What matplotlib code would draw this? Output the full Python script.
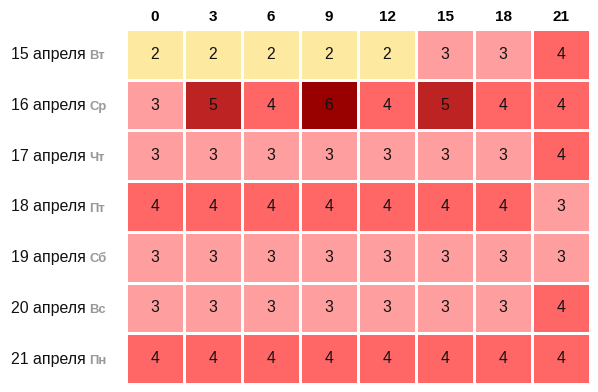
import matplotlib
matplotlib.use("Agg")
import matplotlib.pyplot as plt
from matplotlib.colors import ListedColormap, BoundaryNorm
import numpy as np

plt.rcParams['font.family'] = ['Liberation Sans', 'DejaVu Sans']

hours = ["0", "3", "6", "9", "12", "15", "18", "21"]
dates = ["15 апреля", "16 апреля", "17 апреля", "18 апреля", "19 апреля", "20 апреля", "21 апреля"]
weekdays = ["Вт", "Ср", "Чт", "Пт", "Сб", "Вс", "Пн"]
values = [
    [2, 2, 2, 2, 2, 3, 3, 4],
    [3, 5, 4, 6, 4, 5, 4, 4],
    [3, 3, 3, 3, 3, 3, 3, 4],
    [4, 4, 4, 4, 4, 4, 4, 3],
    [3, 3, 3, 3, 3, 3, 3, 3],
    [3, 3, 3, 3, 3, 3, 3, 4],
    [4, 4, 4, 4, 4, 4, 4, 4],
]
level_colors = ["#FEE9A1", "#FF9E9E", "#FF6666", "#BE2323", "#990000"]
levels = [2, 3, 4, 5, 6]

W, H = 598, 392
fig = plt.figure(figsize=(W / 100, H / 100), dpi=100)
left, right, top, bottom = 126, 590, 29, 384
ax = fig.add_axes([left / W, (H - bottom) / H, (right - left) / W, (bottom - top) / H])

data = np.array(values)
cmap = ListedColormap(level_colors)
norm = BoundaryNorm([l - 0.5 for l in levels] + [levels[-1] + 0.5], cmap.N)
ax.pcolormesh(data, cmap=cmap, norm=norm, edgecolors="white", linewidth=0.8)
ax.set_xlim(0, len(hours))
ax.set_ylim(len(dates), 0)
for s in ax.spines.values():
    s.set_visible(False)
ax.set_xticks([])
ax.set_yticks([])

for i in range(len(dates)):
    for j in range(len(hours)):
        ax.text(j + 0.5, i + 0.5, str(values[i][j]), ha="center", va="center",
                fontsize=11.3, color="#111111")

for j, h in enumerate(hours):
    ax.text(j + 0.5, -0.24, h, ha="center", va="center", fontsize=11,
            fontweight="bold", color="#000000")

row_h = (bottom - top) / len(dates)
for i, (d, wd) in enumerate(zip(dates, weekdays)):
    yb = 1 - (top + (i + 0.5) * row_h + 5) / H
    fig.text(11 / W, yb, d, ha="left", va="baseline", fontsize=11.4, color="#111111")
    fig.text(89 / W, yb, wd, ha="left", va="baseline", fontsize=9.4,
             fontweight="bold", color="#999999")

fig.savefig("out.png", dpi=100)
